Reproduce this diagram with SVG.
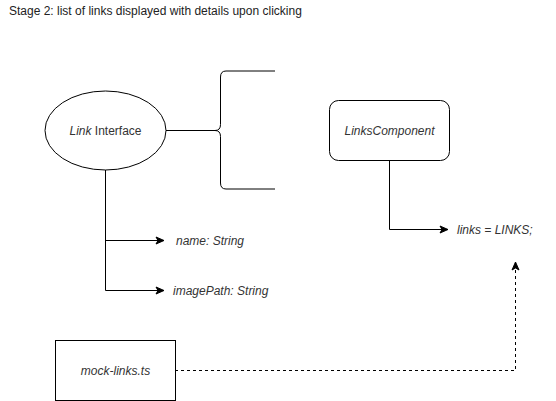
<svg xmlns="http://www.w3.org/2000/svg" width="556" height="401" viewBox="0 0 556 401">
<style>
text{font-family:"Liberation Sans",Arial,sans-serif;font-size:12px;fill:#333333}
.it{font-style:italic}
.shape{fill:#ffffff;stroke:#000000;stroke-width:1}
.edge{fill:none;stroke:#000000;stroke-width:1}
.dash{stroke-dasharray:3 3}
</style>
<defs>
<marker id="arr" viewBox="0 0 10 10" refX="9" refY="5" markerWidth="10" markerHeight="10" markerUnits="userSpaceOnUse" orient="auto">
<path d="M1,1.5 L9,5 L1,8.5 L3,5 Z" fill="#000000" stroke="#000000" stroke-width="1"/>
</marker>
</defs>
<rect width="556" height="401" fill="#ffffff"/>
<text id="title" x="9" y="15" style="fill:#222222">Stage 2: list of links displayed with details upon clicking</text>
<g id="connectors">
<path class="edge" d="M166,130.5 H215"/>
<path class="edge" d="M275,71 H226 Q220.5,71 220.5,77 V124.5 Q220.5,130.5 215,130.5 Q220.5,130.5 220.5,136.5 V183 Q220.5,189 226,189 H275"/>
<path class="edge" d="M105.5,170 V290.5 H164" marker-end="url(#arr)"/>
<path class="edge" d="M105.5,240.5 H164" marker-end="url(#arr)"/>
<path class="edge" d="M389.5,160 V229.5 H448" marker-end="url(#arr)"/>
<path class="edge dash" d="M175,370.5 H515.5 V262" marker-end="url(#arr)"/>
</g>
<g id="link-interface">
<ellipse class="shape" cx="105.5" cy="130.5" rx="60.5" ry="39.5"/>
<text x="105.5" y="134.5" text-anchor="middle"><tspan class="it">Link</tspan> Interface</text>
</g>
<g id="links-component">
<rect class="shape" x="329.5" y="100.5" width="120" height="60" rx="9" ry="9"/>
<text class="it" x="389.5" y="134.5" text-anchor="middle">LinksComponent</text>
</g>
<g id="name-field">
<text class="it" x="176" y="245">name: String</text>
</g>
<g id="imagepath-field">
<text class="it" x="173" y="295">imagePath: String</text>
</g>
<g id="links-assign">
<text class="it" x="457" y="234">links = LINKS;</text>
</g>
<g id="mock-links">
<rect class="shape" x="55.5" y="340.5" width="120" height="60"/>
<text class="it" x="115.5" y="374.5" text-anchor="middle">mock-links.ts</text>
</g>
</svg>
